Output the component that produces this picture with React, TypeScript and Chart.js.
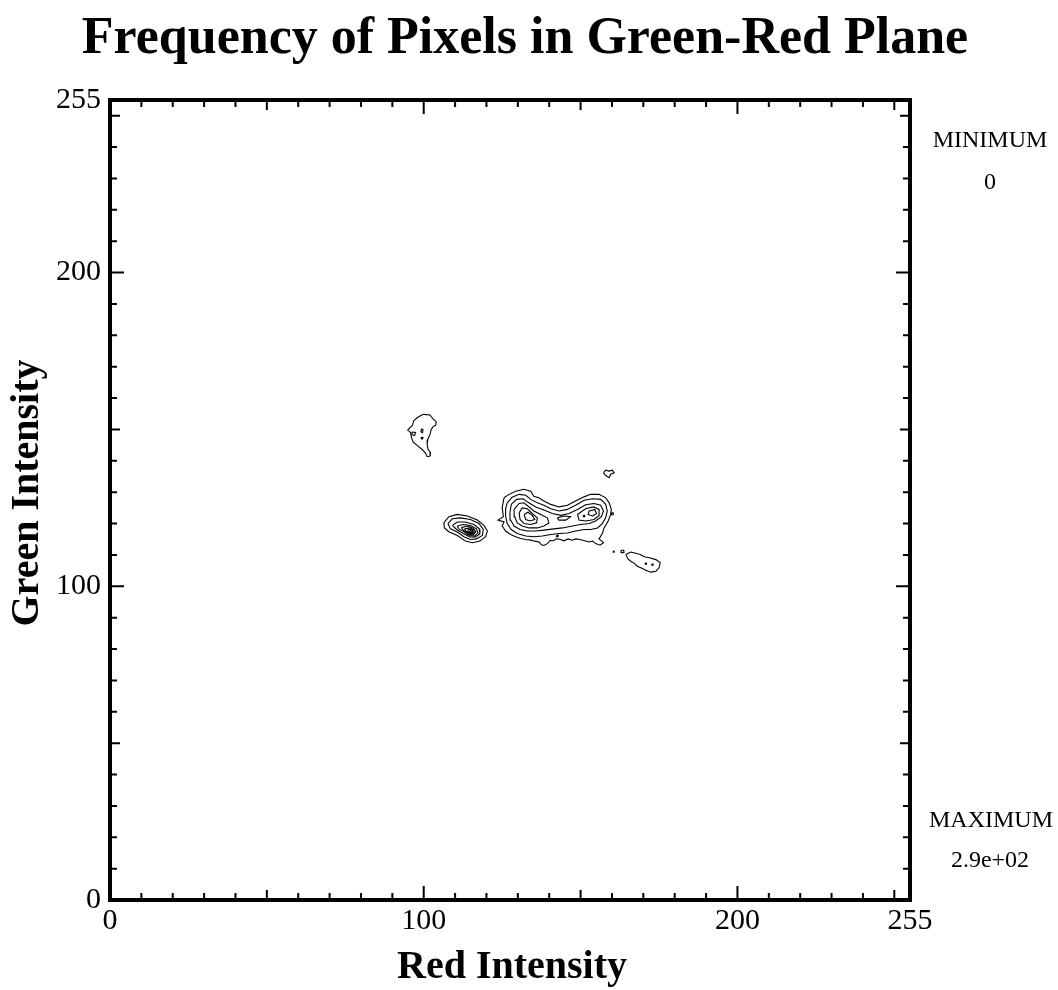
import { useEffect, useRef } from 'react';
import { Chart, registerables } from 'chart.js';

Chart.register(...registerables);

// Intensity range of both axes
const AXIS_MIN = 0;
const AXIS_MAX = 255;

// Tick positions (inward ticks on all four sides)
const majorTicks = [0, 100, 200];
const mediumTicks = [50, 150, 250];
const minorTicks = [10, 20, 30, 40, 60, 70, 80, 90, 110, 120, 130, 140, 160, 170, 180, 190, 210, 220, 230, 240];
const xTickLabels = [0, 100, 200, 255];
const yTickLabels = [0, 100, 200, 255];

// Contour polylines in (red, green) intensity units

// Cluster near red 100, green 148
const clusterA = [
  [100.0, 154.8], [102.0, 154.6], [102.9, 153.4], [104.0, 152.4], [103.8, 151.3], [103.0, 150.9],
  [102.4, 150.0], [102.0, 148.4], [101.3, 146.8], [101.1, 145.2], [101.4, 143.6], [102.2, 142.6],
  [102.0, 141.5], [101.1, 141.3], [100.6, 142.4], [99.5, 143.6], [97.9, 144.9], [96.6, 146.0],
  [96.1, 147.4], [95.8, 149.0], [94.9, 149.8], [95.6, 150.6], [96.4, 151.3], [96.8, 152.7],
  [97.9, 153.7], [99.2, 154.5], [100.0, 154.8],
];
const clusterAHole1 = [[99.3, 150.2], [99.8, 149.8], [99.6, 149.0], [99.1, 149.3], [99.3, 150.2]];
const clusterAHole2 = [[99.3, 147.6], [99.8, 147.4], [99.5, 146.9], [99.2, 147.2], [99.3, 147.6]];
const clusterAHole3 = [[96.3, 149.2], [97.4, 149.0], [97.1, 148.1], [96.2, 148.3], [96.3, 149.2]];

// Small patch near red 159, green 136
const clusterB = [
  [157.3, 136.2], [158.0, 137.0], [159.1, 136.7], [160.1, 137.0], [160.7, 136.2], [159.6, 135.7],
  [159.1, 134.6], [158.0, 135.3], [157.3, 136.2],
];

// Compact peak near red 115, green 117.5 (nested levels)
const peakC1 = [
  [106.4, 120.2], [108.0, 122.2], [110.7, 122.9], [113.9, 122.4], [117.1, 121.1], [119.2, 119.4],
  [120.3, 117.6], [119.7, 115.8], [117.9, 114.4], [115.5, 113.9], [113.3, 114.4], [110.7, 116.2],
  [108.0, 117.4], [106.6, 118.6], [106.4, 120.2],
];
const peakC2 = [
  [107.7, 120.0], [109.1, 121.5], [111.7, 121.8], [114.9, 121.3], [117.6, 120.0], [119.0, 118.1],
  [118.7, 116.2], [116.8, 115.1], [114.9, 114.9], [112.8, 115.8], [110.7, 117.3], [108.5, 118.3],
  [107.7, 120.0],
];
const peakC3 = [
  [109.1, 119.4], [110.7, 120.5], [113.3, 120.5], [116.0, 119.7], [117.7, 118.3], [117.9, 116.7],
  [116.5, 115.7], [114.7, 115.7], [112.6, 116.8], [110.5, 118.1], [109.1, 119.4],
];
const peakC4 = [
  [110.7, 119.2], [112.6, 119.7], [114.9, 119.4], [116.8, 118.3], [117.3, 117.0], [116.2, 116.0],
  [114.5, 116.2], [112.6, 117.5], [111.2, 118.3], [110.7, 119.2],
];
const peakC5 = [
  [112.0, 118.7], [113.9, 119.2], [115.8, 118.5], [116.6, 117.4], [115.8, 116.4], [114.3, 116.6],
  [112.8, 117.7], [112.0, 118.7],
];
const peakC6 = [
  [113.0, 118.3], [114.7, 118.6], [116.0, 117.9], [116.0, 116.9], [114.7, 116.8], [113.4, 117.6],
  [113.0, 118.3],
];
const peakC7 = [[114.1, 118.1], [115.4, 118.1], [115.8, 117.3], [114.9, 116.9], [114.1, 117.5], [114.1, 118.1]];
const peakC8 = [[114.7, 117.8], [115.5, 117.6], [115.0, 117.2], [114.5, 117.4], [114.7, 117.8]];

// Elongated ridge from red 125 to 160, green 113 to 131
const ridgeD1 = [
  [125.6, 128.2], [127.2, 129.3], [129.3, 130.3], [131.9, 130.9], [134.1, 130.3], [135.1, 128.7],
  [136.7, 128.2], [138.3, 127.2], [140.5, 126.1], [143.1, 125.3], [145.8, 125.8], [148.4, 127.2],
  [151.1, 128.5], [153.2, 129.3], [155.9, 129.3], [158.0, 128.2], [159.1, 126.6], [159.8, 124.5],
  [159.6, 122.9], [158.8, 120.8], [157.5, 118.6], [157.0, 117.0], [155.9, 115.1], [157.3, 113.9],
  [156.2, 113.1], [154.8, 113.6], [153.8, 114.4], [152.7, 114.1], [151.3, 114.5], [149.8, 114.9],
  [148.4, 115.1], [147.4, 114.7], [146.0, 115.1], [144.7, 114.5], [143.4, 115.0], [142.3, 115.1],
  [141.3, 114.5], [140.3, 114.6], [139.4, 113.6], [138.3, 113.0], [137.5, 113.2], [136.8, 114.1],
  [135.7, 114.3], [134.1, 114.7], [132.5, 114.9], [130.9, 115.2], [129.3, 115.8], [127.7, 116.5],
  [126.1, 117.6], [125.0, 119.2], [125.6, 120.5], [123.7, 121.1], [125.4, 122.2], [125.0, 125.0],
  [125.6, 128.2],
];
const ridgeD2 = [
  [126.6, 126.6], [128.2, 128.4], [130.4, 129.3], [132.5, 129.0], [134.1, 127.7], [136.2, 126.6],
  [138.3, 125.8], [140.5, 124.7], [143.1, 124.0], [145.8, 124.5], [148.4, 125.8], [151.1, 127.4],
  [153.8, 127.9], [156.4, 127.7], [158.0, 126.1], [158.5, 124.0], [158.0, 121.8], [156.9, 120.0],
  [155.4, 118.6], [153.2, 118.1], [151.1, 118.1], [148.4, 117.6], [145.8, 117.0], [143.1, 116.8],
  [140.5, 116.5], [137.8, 116.0], [135.1, 115.8], [132.5, 116.0], [129.8, 116.8], [127.9, 118.1],
  [126.6, 120.0], [126.1, 122.4], [126.1, 124.7], [126.6, 126.6],
];
const ridgeD3 = [
  [127.9, 126.1], [129.6, 127.7], [131.7, 127.9], [133.5, 126.6], [135.7, 125.3], [138.3, 124.3],
  [141.0, 123.2], [143.7, 122.6], [146.3, 123.2], [149.0, 124.5], [151.6, 126.0], [154.3, 126.4],
  [156.4, 125.8], [157.3, 124.0], [156.6, 122.2], [154.8, 120.8], [152.7, 120.0], [150.0, 119.7],
  [147.4, 119.2], [144.2, 118.6], [141.5, 118.3], [138.3, 117.9], [135.7, 117.6], [133.0, 117.6],
  [130.7, 118.1], [128.8, 119.2], [127.7, 121.1], [127.5, 123.6], [127.9, 126.1],
];
const ridgeD4West = [
  [128.8, 124.5], [130.4, 126.4], [131.9, 126.6], [133.2, 125.6], [135.1, 124.0], [137.3, 122.9],
  [139.4, 121.8], [139.9, 120.2], [138.3, 119.2], [136.2, 118.6], [133.5, 118.6], [131.4, 119.2],
  [129.8, 120.2], [129.0, 122.2], [128.8, 124.5],
];
const ridgeD4East = [
  [149.0, 122.9], [151.6, 124.7], [154.1, 125.3], [155.9, 124.5], [155.9, 122.6], [154.3, 121.3],
  [151.6, 120.8], [149.5, 121.1], [149.0, 122.9],
];
const ridgeD5West = [
  [130.4, 123.4], [131.4, 125.0], [133.0, 124.7], [134.6, 123.2], [136.2, 121.8], [136.0, 120.2],
  [134.1, 119.7], [132.0, 120.0], [130.7, 121.3], [130.4, 123.4],
];
const ridgeD5East = [[152.7, 124.0], [154.5, 124.5], [155.1, 123.2], [153.8, 122.4], [152.4, 122.9], [152.7, 124.0]];
const ridgeD6West = [
  [132.0, 122.9], [133.2, 123.6], [134.6, 122.6], [135.4, 121.3], [133.9, 120.8], [132.5, 121.3], [132.0, 122.9],
];
const ridgeSaddle = [[142.6, 121.8], [144.7, 122.4], [146.8, 122.2], [145.3, 121.1], [143.1, 121.1], [142.6, 121.8]];
const ridgeSpeck1 = [[142.3, 116.2], [142.9, 116.3], [142.8, 115.8], [142.3, 115.8], [142.3, 116.2]];
const ridgeSpeck2 = [[159.8, 123.4], [160.4, 123.4], [160.4, 122.8], [159.8, 122.8], [159.8, 123.4]];
const ridgeSpeck3 = [[150.9, 122.6], [151.3, 122.6], [151.3, 122.2], [150.9, 122.2], [150.9, 122.6]];

// Tail cluster near red 170, green 107
const clusterE = [
  [164.4, 110.1], [166.0, 110.9], [167.6, 110.5], [169.0, 110.1], [170.3, 109.4], [171.9, 109.1],
  [174.0, 108.5], [175.4, 107.5], [175.0, 105.9], [174.0, 104.8], [172.4, 104.5], [170.8, 105.1],
  [169.2, 105.9], [168.1, 106.4], [167.1, 107.3], [166.0, 108.0], [165.1, 108.7], [164.4, 110.1],
];
const clusterESpeck1 = [[170.6, 107.4], [171.0, 107.4], [171.0, 107.0], [170.6, 107.0], [170.6, 107.4]];
const clusterESpeck2 = [[172.7, 107.1], [173.1, 107.1], [173.1, 106.7], [172.7, 106.7], [172.7, 107.1]];
const speckRing = [[162.9, 111.5], [163.7, 111.5], [163.8, 110.8], [163.0, 110.7], [162.9, 111.5]];
const speckDot = [[160.4, 111.2], [160.7, 111.2], [160.7, 110.9], [160.4, 110.9], [160.4, 111.2]];

const contourLines = [
  clusterA, clusterAHole1, clusterAHole2, clusterAHole3,
  clusterB,
  peakC1, peakC2, peakC3, peakC4, peakC5, peakC6, peakC7, peakC8,
  ridgeD1, ridgeD2, ridgeD3, ridgeD4West, ridgeD4East, ridgeD5West, ridgeD5East, ridgeD6West,
  ridgeSaddle, ridgeSpeck1, ridgeSpeck2, ridgeSpeck3,
  clusterE, clusterESpeck1, clusterESpeck2, speckRing, speckDot,
];

const TITLE = 'Frequency of Pixels in Green-Red Plane';
const X_TITLE = 'Red Intensity';
const Y_TITLE = 'Green Intensity';
const MIN_LABEL = 'MINIMUM';
const MIN_VALUE = '0';
const MAX_LABEL = 'MAXIMUM';
const MAX_VALUE = '2.9e+02';

const SERIF = '"Liberation Serif", "Times New Roman", Times, serif';

const framePlugin = {
  id: 'contourFrame',
  afterDraw(chart: any) {
    const { ctx, chartArea, scales } = chart;
    const xs = scales.x;
    const ys = scales.y;
    const { left, right, top, bottom } = chartArea;
    ctx.save();
    ctx.strokeStyle = '#000';
    ctx.fillStyle = '#000';

    // frame
    ctx.lineWidth = 4;
    ctx.strokeRect(left, top, right - left, bottom - top);

    // inward ticks
    ctx.lineWidth = 2;
    const drawTicks = (values: number[], len: number) => {
      values.forEach((v) => {
        const px = xs.getPixelForValue(v);
        const py = ys.getPixelForValue(v);
        ctx.beginPath();
        ctx.moveTo(px, bottom);
        ctx.lineTo(px, bottom - len);
        ctx.moveTo(px, top);
        ctx.lineTo(px, top + len);
        ctx.moveTo(left, py);
        ctx.lineTo(left + len, py);
        ctx.moveTo(right, py);
        ctx.lineTo(right - len, py);
        ctx.stroke();
      });
    };
    drawTicks(majorTicks, 14);
    drawTicks(mediumTicks, 10);
    drawTicks(minorTicks, 7);

    // tick labels
    ctx.font = `30px ${SERIF}`;
    ctx.textAlign = 'center';
    ctx.textBaseline = 'middle';
    xTickLabels.forEach((v) => {
      ctx.fillText(String(v), xs.getPixelForValue(v), bottom + 21);
    });
    ctx.textAlign = 'right';
    yTickLabels.forEach((v) => {
      ctx.fillText(String(v), left - 9, ys.getPixelForValue(v));
    });

    // titles
    ctx.textAlign = 'center';
    ctx.font = `bold 52px ${SERIF}`;
    ctx.fillText(TITLE, 525, 40);
    ctx.font = `bold 40px ${SERIF}`;
    ctx.fillText(X_TITLE, 512, 968);
    ctx.save();
    ctx.translate(28, 493);
    ctx.rotate(-Math.PI / 2);
    ctx.fillText(Y_TITLE, 0, 0);
    ctx.restore();

    // range annotations
    ctx.font = `24px ${SERIF}`;
    ctx.fillText(MIN_LABEL, 990, 141);
    ctx.fillText(MIN_VALUE, 990, 183);
    ctx.fillText(MAX_LABEL, 991, 821);
    ctx.fillText(MAX_VALUE, 990, 861);
    ctx.restore();
  },
};

export default function App() {
  const canvasRef = useRef<HTMLCanvasElement | null>(null);

  useEffect(() => {
    if (!canvasRef.current) return;
    const chart = new Chart(canvasRef.current, {
      type: 'scatter',
      data: {
        datasets: contourLines.map((line, i) => ({
          label: `contour ${i + 1}`,
          data: line.map(([x, y]) => ({ x, y })),
          showLine: true,
          borderColor: '#000',
          borderWidth: 1.1,
          pointRadius: 0,
          pointHoverRadius: 0,
          fill: false,
          tension: 0,
        })),
      },
      options: {
        animation: false,
        responsive: false,
        devicePixelRatio: 1,
        layout: { padding: { left: 110, right: 148, top: 100, bottom: 90 } },
        scales: {
          x: { type: 'linear', min: AXIS_MIN, max: AXIS_MAX, display: false },
          y: { type: 'linear', min: AXIS_MIN, max: AXIS_MAX, display: false },
        },
        plugins: {
          legend: { display: false },
          tooltip: { enabled: false },
          title: { display: false },
        },
      },
      plugins: [framePlugin],
    });
    return () => chart.destroy();
  }, []);

  return (
    <div style={{ position: 'absolute', left: 0, top: 0, width: 1058, height: 990, background: '#fff' }}>
      <canvas ref={canvasRef} width={1058} height={990} style={{ width: 1058, height: 990, display: 'block' }} />
    </div>
  );
}
